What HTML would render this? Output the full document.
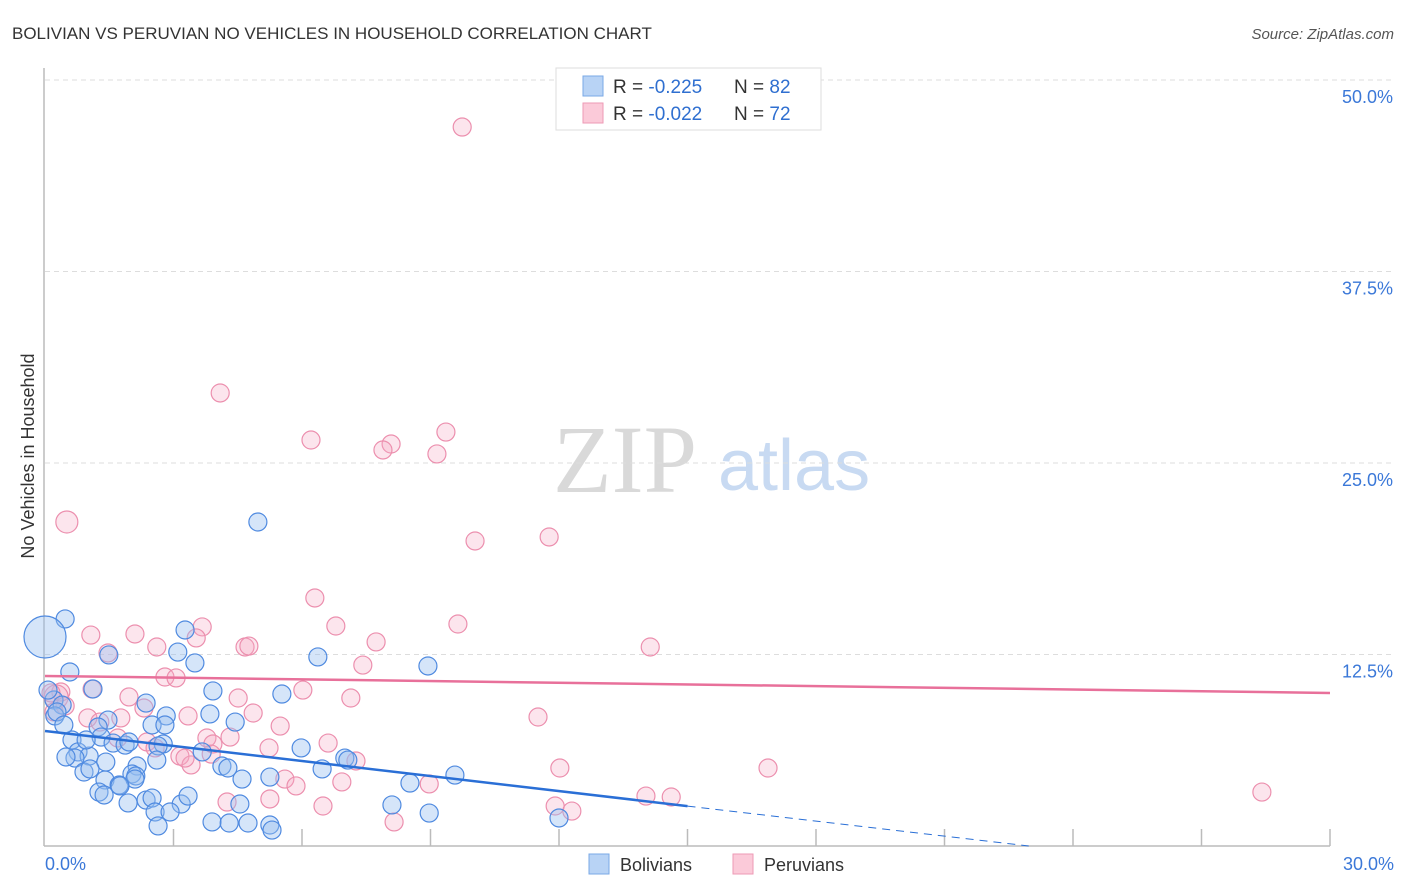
<!DOCTYPE html>
<html><head><meta charset="utf-8"><style>
body{margin:0;background:#fff;font-family:"Liberation Sans",sans-serif}
#c{position:absolute;left:0;top:0}
</style></head><body>
<svg id="c" width="1406" height="892" xmlns="http://www.w3.org/2000/svg">
<text x="12" y="39" font-size="17" fill="#333">BOLIVIAN VS PERUVIAN NO VEHICLES IN HOUSEHOLD CORRELATION CHART</text>
<text x="1394" y="39" font-size="15" fill="#555" font-style="italic" text-anchor="end">Source: ZipAtlas.com</text>
<text x="34" y="456" font-size="18" fill="#333" text-anchor="middle" transform="rotate(-90 34 456)">No Vehicles in Household</text>
<g>
<text x="553" y="492" font-size="96" fill="#d9d9d9" font-family="Liberation Serif,serif">ZIP</text>
<text x="718" y="490" font-size="72" fill="#c8daf2">atlas</text>
</g>
<g id="grid"></g><g id="pts"></g><g id="lines"></g>
<g>
<rect x="556" y="68" width="265" height="62" fill="#fff" stroke="#ddd"/>
<rect x="583" y="76" width="20" height="20" fill="#b8d3f5" stroke="#7aa8e6"/>
<rect x="583" y="103" width="20" height="20" fill="#fbcad9" stroke="#ee9ab5"/>
<text x="613" y="93" font-size="19" fill="#333">R = <tspan fill="#2f6fd0">-0.225</tspan><tspan x="734">N = </tspan><tspan fill="#2f6fd0">82</tspan></text>
<text x="613" y="120" font-size="19" fill="#333">R = <tspan fill="#2f6fd0">-0.022</tspan><tspan x="734">N = </tspan><tspan fill="#2f6fd0">72</tspan></text>
</g>
<g>
<rect x="589" y="854" width="20" height="20" fill="#b8d3f5" stroke="#7aa8e6"/>
<text x="620" y="871" font-size="18" fill="#333">Bolivians</text>
<rect x="733" y="854" width="20" height="20" fill="#fbcad9" stroke="#ee9ab5"/>
<text x="764" y="871" font-size="18" fill="#333">Peruvians</text>
</g>
</svg>
<script>
const yTicks=[12.5,25,37.5,50];
const yTickLabels=["12.5%","25.0%","37.5%","50.0%"];
const xTickCount=10;
const xLabels=["0.0%","30.0%"];
const bolX=[4.97,0.47,3.27,3.1,1.49,3.5,6.37,8.94,0.58,1.12,3.92,5.53,2.36,0.21,0.4,0.23,2.83,3.85,4.44,1.47,1.24,2.5,2.8,0.63,1.31,1.59,1.87,1.96,2.76,2.64,5.98,7.0,7.07,3.67,0.77,1.03,1.42,0.7,2.15,2.61,2.03,2.12,4.13,4.27,9.57,0.91,1.05,6.47,1.4,1.73,2.1,4.6,5.25,8.52,1.26,1.38,1.94,2.36,2.5,3.18,3.34,4.55,8.1,0.49,2.57,2.92,3.9,4.3,4.74,5.25,5.3,2.64,8.97,12.0,0,0.07,0.28,0.44,0.96,1.75];
const bolY=[21.15,14.82,14.1,12.66,12.47,11.95,12.34,11.75,11.36,10.25,10.12,9.92,9.33,9.53,9.2,8.49,8.49,8.62,8.09,8.22,7.77,7.9,7.9,6.92,7.11,6.72,6.59,6.79,6.66,6.53,6.4,5.74,5.61,6.14,6.14,5.87,5.48,5.74,5.22,5.61,4.7,4.57,5.22,5.09,4.63,4.83,5.03,5.03,4.31,3.98,4.37,4.37,4.5,4.11,3.52,3.33,2.81,3.0,3.13,2.74,3.26,2.74,2.68,5.81,2.22,2.22,1.57,1.5,1.5,1.37,1.04,1.31,2.15,1.83,13.64,10.18,8.75,7.9,6.92,3.92];
const perX=[9.74,4.09,6.21,8.08,7.89,9.36,9.15,0.51,10.04,11.77,6.3,1.07,2.1,3.67,6.79,9.64,3.53,4.67,4.76,7.73,14.13,1.47,2.61,7.42,2.8,3.06,1.1,6.02,7.14,0.37,0.26,1.96,4.51,0.21,0.47,2.31,1.0,1.77,1.28,3.34,4.86,5.49,11.51,1.7,2.38,3.15,3.78,3.92,4.32,5.23,6.61,7.26,3.41,12.02,16.88,3.27,5.6,5.86,6.93,8.97,4.25,5.25,6.49,8.15,11.91,12.3,14.03,14.62,28.41,2.57,0.14,3.88];
const perY=[46.93,29.57,26.5,26.24,25.85,27.02,25.59,21.15,19.91,20.17,16.19,13.77,13.84,14.3,14.36,14.49,13.58,12.99,13.05,13.32,12.99,12.6,12.99,11.81,11.03,10.97,10.25,10.18,9.66,10.05,9.73,9.73,9.66,8.75,9.14,9.01,8.36,8.36,8.09,8.49,8.68,7.83,8.42,7.05,6.79,5.87,7.05,6.66,7.11,6.4,6.72,5.55,5.29,5.09,5.09,5.74,4.37,3.92,4.18,4.05,2.87,3.07,2.61,1.57,2.61,2.28,3.26,3.2,3.52,6.4,9.99,6.0];
const bolTrend=[7.51,-0.327];
const perTrend=[11.1,-0.037];
const X0=45,X1=1330,Y0=846,Y1=80;
const sx=v=>X0+v/30*(X1-X0);
const sy=v=>Y0-v/50*(Y0-Y1);
const NS="http://www.w3.org/2000/svg";
function mk(t,a,p){const e=document.createElementNS(NS,t);for(const k in a)e.setAttribute(k,a[k]);p.appendChild(e);return e;}
const g=document.getElementById('grid');
yTicks.forEach((v,i)=>{
 const l=mk('line',{x1:45,x2:1394,y1:sy(v),y2:sy(v),stroke:'#ddd','stroke-dasharray':'5,4'},g);
 
 
 const t=mk('text',{x:1393,y:sy(v)+23,'font-size':18,fill:'#3b78d8','text-anchor':'end'},g);
 t.textContent=yTickLabels[i];
 
 
});
const ax=mk('line',{x1:44,x2:44,y1:68,y2:846,stroke:'#bbb','stroke-width':1.5},g);


const bx=mk('line',{x1:44,x2:1330,y1:846,y2:846,stroke:'#bbb','stroke-width':1.5},g);


for(let i=1;i<=xTickCount;i++){const v=i*3;
 const t=mk('line',{x1:sx(v),x2:sx(v),y1:829,y2:846,stroke:'#bbb','stroke-width':1.5},g);
 
 
}
[[0,'start',45],[30,'end',1394]].forEach((d,i)=>{
 const t=mk('text',{x:d[2],y:870,'font-size':18,fill:'#3b78d8','text-anchor':d[1]},g);
 t.textContent=xLabels[i];
 
 
});
const p=document.getElementById('pts');
perX.forEach((x,i)=>{
 const r=(i===7)?11:(i===30?12:9);
 const c=mk('circle',{cx:sx(x),cy:sy(perY[i]),r:r,fill:'rgba(246,170,195,0.3)',stroke:'#ec8fae','stroke-width':1.2},p);
 
 
});
bolX.forEach((x,i)=>{
 const r=(i===74)?21:9;
 const c=mk('circle',{cx:sx(x),cy:sy(bolY[i]),r:r,fill:'rgba(150,190,240,0.4)',stroke:'#4f8ae0','stroke-width':1.2},p);
 
 
});
const L=document.getElementById('lines');
const bEnd=15, bZero=-bolTrend[0]/bolTrend[1];
const bl=mk('line',{x1:sx(0),y1:sy(bolTrend[0]),x2:sx(bEnd),y2:sy(bolTrend[0]+bolTrend[1]*bEnd),stroke:'#2a6fd6','stroke-width':2.5},L);


const bd=mk('line',{x1:sx(bEnd),y1:sy(bolTrend[0]+bolTrend[1]*bEnd),x2:sx(bZero),y2:sy(0),stroke:'#2a6fd6','stroke-width':1,'stroke-dasharray':'8,6'},L);


const pl=mk('line',{x1:sx(0),y1:sy(perTrend[0]),x2:sx(30),y2:sy(perTrend[0]+perTrend[1]*30),stroke:'#e8709a','stroke-width':2.5},L);


</script>
</body></html>
